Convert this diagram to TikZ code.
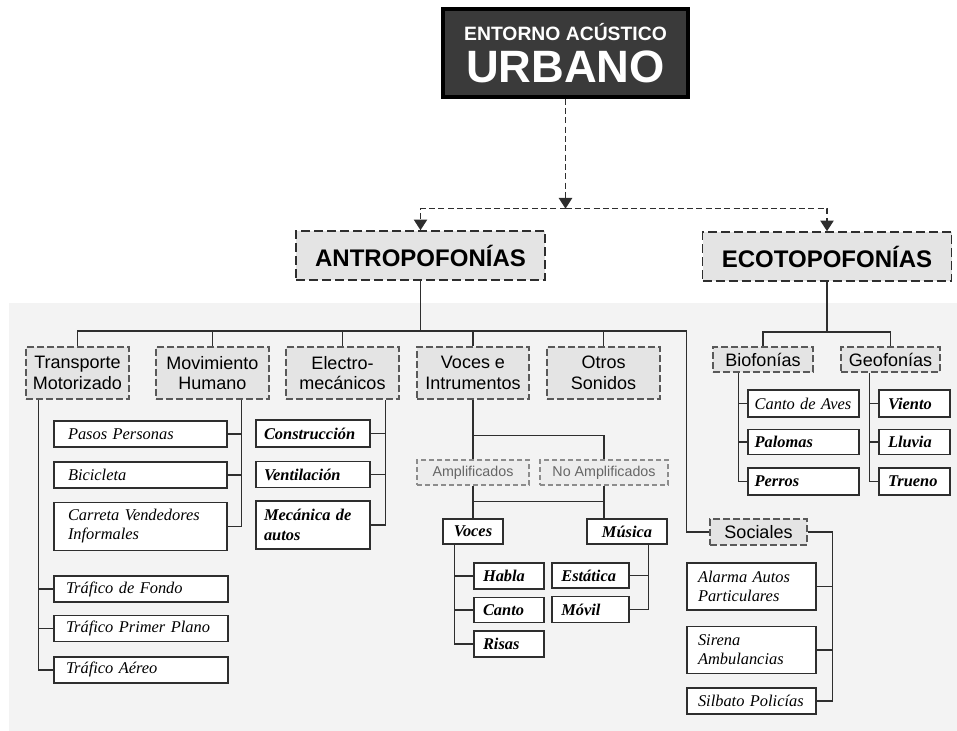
\documentclass[tikz,border=0pt]{standalone}
\usepackage{fontspec}
\setmainfont{Liberation Serif}
\setsansfont{Liberation Sans}
\usepackage{tikz}
\usetikzlibrary{positioning, arrows.meta, calc}
\definecolor{panelgray}{HTML}{F3F3F3}
\definecolor{boxgray}{HTML}{E4E4E4}
\definecolor{titlegray}{HTML}{3A3A3A}
\definecolor{linegray}{HTML}{2E2E2E}

\begin{document}
\begin{tikzpicture}[
						x=0.75pt, y=-0.75pt,
						titleblock/.style={rectangle, draw=black, line width=2.5pt, fill=titlegray, text=white, minimum width=183.75pt, minimum height=66pt, align=center, font=\sffamily\bfseries\fontsize{34}{31.5}\selectfont},
						mainblock/.style={rectangle, draw=linegray, dash pattern=on 6.75pt off 3pt, line width=1.2pt, fill=boxgray, minimum width=186.75pt, minimum height=36.75pt, font=\sffamily\bfseries\fontsize{18}{20}\selectfont},
						catblock/.style={rectangle, draw=black!65, dash pattern=on 5pt off 2.5pt, line width=0.9pt, fill=boxgray, minimum height=39pt, inner sep=2pt, align=center, font=\sffamily\fontsize{13.5}{15.5}\selectfont},
						ampblock/.style={rectangle, draw=black!45, dash pattern=on 4pt off 2pt, line width=0.9pt, fill=black!7, text=black!60, minimum height=18.75pt, inner sep=1pt, font=\sffamily\fontsize{10.7}{12}\selectfont},
						leafblock/.style={rectangle, draw=linegray, line width=1.1pt, fill=white, align=left, inner ysep=0pt, font=\itshape\fontsize{12.3}{14.5}\selectfont},
						bfleaf/.style={font=\bfseries\itshape\fontsize{12.3}{14.5}\selectfont},
						mleaf/.style={leafblock, inner xsep=10.5pt, text width=108.75pt, minimum height=19.5pt},
						tleaf/.style={leafblock, inner xsep=9pt, text width=112.5pt, minimum height=19.5pt},
						eleaf/.style={leafblock, bfleaf, inner xsep=6pt, text width=73.5pt},
						hleaf/.style={leafblock, bfleaf, inner xsep=6.75pt, text width=39pt},
						sleaf/.style={leafblock, bfleaf, inner xsep=7pt, text width=43.75pt},
						oleaf/.style={leafblock, inner xsep=8.25pt, text width=80.25pt},
						bleaf/.style={leafblock, inner xsep=5pt, text width=73.25pt},
						gleaf/.style={leafblock, bfleaf, inner xsep=6.75pt, text width=39.75pt},
						line/.style={draw=linegray, line width=1.1pt},
						dashline/.style={draw=linegray, line width=1.1pt, dash pattern=on 4.5pt off 2.5pt, -{Triangle[length=8pt, width=10pt]}}
						]
						
						\useasboundingbox (0,0) rectangle (957,731);
						\fill[panelgray] (9,303) rectangle (957,731);
						
						\node [titleblock] (title) at (565.5,53) {{\fontsize{14.5}{14.5}\selectfont ENTORNO ACÚSTICO}\\URBANO};
						\node [mainblock] (antro) at (420.5,255.5) {ANTROPOFONÍAS};
						\node [mainblock] (eco) at (827,256.5) {ECOTOPOFONÍAS};
						
						\node [catblock, minimum width=77.25pt] (trans) at (77.5,373) {Transporte\\Motorizado};
						\node [catblock, minimum width=84.75pt] (movi) at (212.5,373) {Movimiento\\Humano};
						\node [catblock, minimum width=84.75pt] (elec) at (342.5,373) {Electro-\\mecánicos};
						\node [catblock, minimum width=84pt] (vocesi) at (473,373) {Voces e\\Intrumentos};
						\node [catblock, minimum width=84.75pt] (otros) at (603.5,373) {Otros\\Sonidos};
						\node [catblock, minimum width=72.75pt, minimum height=19.5pt] (sociales) at (758.5,532) {Sociales};
						\node [catblock, minimum width=75pt, minimum height=18.75pt] (biof) at (763,359.5) {Biofonías};
						\node [catblock, minimum width=74.25pt, minimum height=18.75pt] (geof) at (890.5,359.5) {Geofonías};
						
						\node [ampblock, minimum width=84pt] (amp) at (473,472.5) {Amplificados};
						\node [ampblock, minimum width=96pt] (noamp) at (604,472.5) {No Amplificados};
						
						% hojas
						\node [mleaf] (pasos) at (140.5,434) {Pasos Personas};
						\node [mleaf, below=10pt of pasos] (bici) {Bicicleta};
						\node [mleaf, minimum height=36pt, below=9.75pt of bici] (carreta) {Carreta Vendedores\\Informales};
						
						\node [tleaf] (fondo) at (141,589) {Tráfico de Fondo};
						\node [tleaf, below=9pt of fondo] (primer) {Tráfico Primer Plano};
						\node [tleaf, below=10.5pt of primer] (aereo) {Tráfico Aéreo};
						
						\node [eleaf, minimum height=20.25pt] (constr) at (313,433.5) {Construcción};
						\node [eleaf, minimum height=19.5pt, below=9.75pt of constr] (ventil) {Ventilación};
						\node [eleaf, minimum height=36pt, below=9pt of ventil] (mecan) {Mecánica de\\autos};
						
						\node [leafblock, bfleaf, minimum width=45pt, minimum height=18.75pt] (vozleaf) at (473,531.5) {Voces};
						\node [leafblock, bfleaf, minimum width=60pt, minimum height=18.75pt] (musica) at (627,531.5) {Música};
						
						\node [hleaf, minimum height=19.5pt] (habla) at (509,576) {Habla};
						\node [hleaf, minimum height=18.75pt, below=5.25pt of habla] (canto) {Canto};
						\node [hleaf, minimum height=19.5pt, below=5.25pt of canto] (risas) {Risas};
						
						\node [sleaf, minimum height=18.75pt] (estat) at (590.5,575.5) {Estática};
						\node [sleaf, minimum height=19.5pt, below=5.25pt of estat] (movil) {Móvil};
						
						\node [oleaf, minimum height=35.25pt] (alarma) at (751.5,586.5) {Alarma Autos\\Particulares};
						\node [oleaf, minimum height=35.25pt, below=11.25pt of alarma] (sirena) {Sirena\\Ambulancias};
						\node [oleaf, minimum height=19.5pt, below=9.75pt of sirena] (silbato) {Silbato Policías};
						
						\node [bleaf, minimum height=20.25pt] (aves) at (803.5,403.5) {Canto de Aves};
						\node [bleaf, bfleaf, minimum height=18.75pt, below=8.25pt of aves] (palomas) {Palomas};
						\node [bleaf, bfleaf, minimum height=20.25pt, below=9pt of palomas] (perros) {Perros};
						
						\node [gleaf, minimum height=20.25pt] (viento) at (914.5,403.5) {Viento};
						\node [gleaf, minimum height=18.75pt, below=8.25pt of viento] (lluvia) {Lluvia};
						\node [gleaf, minimum height=20.25pt, below=9pt of lluvia] (trueno) {Trueno};
						
						% conectores
						\coordinate (split) at ($(title.south)+(0,110)$);
						\draw [dashline] (title.south) -- (split);
						\draw [dashline] (split) -| (antro.north);
						\draw [dashline] (split) -| (eco.north);
						
						\coordinate (antrobus) at ($(antro.south)+(0,50)$);
						\coordinate (socturn) at ($(sociales.west)+(-23,0)$);
						\draw [line] (antro.south) -- (antrobus);
						\draw [line] (trans.north) |- (antrobus) -| (socturn) -- (sociales.west);
						\foreach \n in {movi, elec, vocesi, otros}
							\draw [line] (\n.north) -- (\n.north |- antrobus);
						
						\coordinate (ecobus) at ($(eco.south)+(0,50)$);
						\draw [line] (eco.south) -- (ecobus);
						\draw [line] (biof.north) |- (ecobus) -| (geof.north);
						
						\coordinate (trunkT) at ($(trans.south west)+(13,0)$);
						\draw [line] (trunkT) |- (aereo.west);
						\foreach \n in {fondo, primer}
							\draw [line] (trunkT |- \n.west) -- (\n.west);
						
						\coordinate (trunkM) at ($(movi.south east)+(-28,0)$);
						\draw [line] (trunkM) |- (carreta.east);
						\foreach \n in {pasos, bici}
							\draw [line] (trunkM |- \n.east) -- (\n.east);
						
						\coordinate (trunkE) at ($(elec.south east)+(-14,0)$);
						\draw [line] (trunkE) |- (mecan.east);
						\foreach \n in {constr, ventil}
							\draw [line] (trunkE |- \n.east) -- (\n.east);
						
						\coordinate (vbus) at ($(vocesi.south)+(0,36)$);
						\draw [line] (vocesi.south) -- (amp.north);
						\draw [line] (vbus) -| (noamp.north);
						\coordinate (abus) at ($(amp.south)+(0,16)$);
						\draw [line] (amp.south) -- (vozleaf.north);
						\draw [line] (noamp.south) -- (noamp.south |- musica.north);
						\draw [line] (abus) -- (abus -| noamp.south);
						
						\coordinate (trunkV) at ($(vozleaf.south west)+(12,0)$);
						\draw [line] (trunkV) |- (risas.west);
						\foreach \n in {habla, canto}
							\draw [line] (trunkV |- \n.west) -- (\n.west);
						
						\coordinate (trunkU) at ($(musica.south east)+(-19,0)$);
						\draw [line] (trunkU) |- (movil.east);
						\draw [line] (trunkU |- estat.east) -- (estat.east);
						
						\coordinate (trunkS) at ($(sociales.east)+(25,0)$);
						\draw [line] (sociales.east) -- (trunkS) |- (silbato.east);
						\foreach \n in {alarma, sirena}
							\draw [line] (trunkS |- \n.east) -- (\n.east);
						
						\coordinate (trunkB) at ($(biof.south west)+(26,0)$);
						\draw [line] (trunkB) |- (perros.west);
						\foreach \n in {aves, palomas}
							\draw [line] (trunkB |- \n.west) -- (\n.west);
						
						\coordinate (trunkG) at ($(geof.south west)+(29,0)$);
						\draw [line] (trunkG) |- (trueno.west);
						\foreach \n in {viento, lluvia}
							\draw [line] (trunkG |- \n.west) -- (\n.west);
					\end{tikzpicture}
\end{document}
